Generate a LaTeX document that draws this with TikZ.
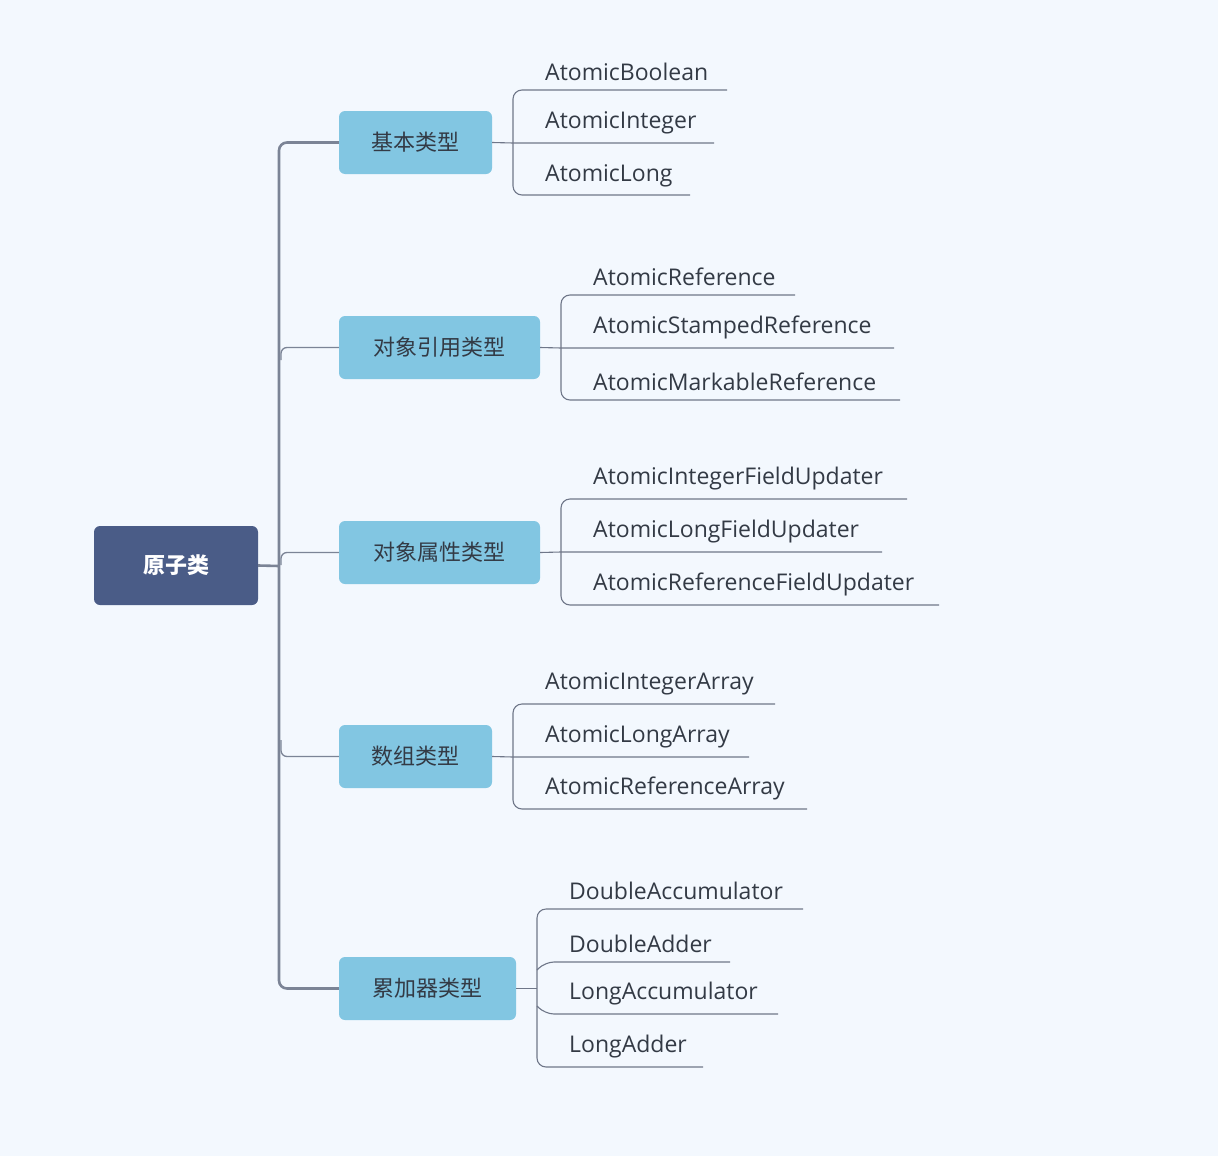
\documentclass[tikz,border=0pt]{standalone}
\usepackage{fontspec}
\setmainfont{Open Sans}
\newfontfamily\cjk{Noto Sans CJK SC}
\definecolor{bg}{HTML}{F3F8FE}
\definecolor{rootc}{HTML}{4A5C87}
\definecolor{boxc}{HTML}{82C6E2}
\definecolor{trunk}{HTML}{7B8496}
\definecolor{leafl}{HTML}{6F7789}
\definecolor{txt}{HTML}{333A45}
\begin{document}
\begin{tikzpicture}[x=1pt,y=-1pt,
  rootbox/.style={fill=rootc,rounded corners=6pt,text=white,font=\cjk\fontsize{22}{26}\selectfont\bfseries,inner sep=0pt},
  catbox/.style={fill=boxc,rounded corners=6pt,text=txt,font=\cjk\fontsize{22}{26}\selectfont,inner sep=0pt},
  leaf/.style={anchor=south west,inner sep=0pt,text=txt,font=\fontsize{23}{28}\selectfont,yshift=-1pt},
  trk/.style={draw=trunk,line width=2.6pt,rounded corners=8pt},
  lf/.style={draw=leafl,line width=1.1pt,rounded corners=9pt}]
\fill[bg] (0,0) rectangle (1218,1156);
\useasboundingbox (0,0) rectangle (1218,1156);
\node[rootbox,minimum width=164pt,minimum height=79pt] (root) at (176,565.5) {原子类};
\node[catbox,minimum width=153pt,minimum height=63pt] (c1) at (415.5,142.5) {基本类型};
\node[catbox,minimum width=201pt,minimum height=63pt] (c2) at (439.5,347.5) {对象引用类型};
\node[catbox,minimum width=201pt,minimum height=63pt] (c3) at (439.5,552.5) {对象属性类型};
\node[catbox,minimum width=153pt,minimum height=63pt] (c4) at (415.5,756.5) {数组类型};
\node[catbox,minimum width=177pt,minimum height=63pt] (c5) at (427.5,988.5) {累加器类型};
\coordinate (j) at (279,566);
\draw[trk] (root.east) -- (j);
\draw[trk] (c1.west) -- (279,142.5) -- (279,988.5) -- (c5.west);
\draw[draw=trunk,line width=1.3pt,rounded corners=6pt] (c2.west) -- (281,347.5) -- (281,360);
\draw[draw=trunk,line width=1.3pt,rounded corners=6pt] (c3.west) -- (281,552.5) -- (281,565);
\draw[draw=trunk,line width=1.3pt,rounded corners=6pt] (c4.west) -- (281,756.5) -- (281,740);
% group 1
\draw[lf] (727,90) -- (513,90) -- (513,195) -- (690,195);
\draw[lf] (c1.east) -- (513,143) (513,143) -- (714,143);
\node[leaf] (l11) at (545,80) {AtomicBoolean};
\node[leaf] (l12) at (545,133) {AtomicInteger};
\node[leaf] (l13) at (545,186) {AtomicLong};
% group 2
\draw[lf] (795,295) -- (561,295) -- (561,400) -- (900,400);
\draw[lf] (c2.east) -- (561,348) (561,348) -- (894,348);
\node[leaf] (l21) at (593,285) {AtomicReference};
\node[leaf] (l22) at (593,338) {AtomicStampedReference};
\node[leaf] (l23) at (593,390) {AtomicMarkableReference};
% group 3
\draw[lf] (907,499) -- (561,499) -- (561,605) -- (939,605);
\draw[lf] (c3.east) -- (561,552) (561,552) -- (882,552);
\node[leaf] (l31) at (593,489) {AtomicIntegerFieldUpdater};
\node[leaf] (l32) at (593,542) {AtomicLongFieldUpdater};
\node[leaf] (l33) at (593,595) {AtomicReferenceFieldUpdater};
% group 4
\draw[lf] (775,704) -- (513,704) -- (513,809) -- (807,809);
\draw[lf] (c4.east) -- (513,757) (513,757) -- (749,757);
\node[leaf] (l41) at (545,694) {AtomicIntegerArray};
\node[leaf] (l42) at (545,747) {AtomicLongArray};
\node[leaf] (l43) at (545,799) {AtomicReferenceArray};
% group 5
\draw[lf] (803,909) -- (537,909) -- (537,1067) -- (703,1067);
\draw[lf] (c5.east) -- (537,988.5);
\draw[lf] (730,962) -- (545,962) -- (537,970);
\draw[lf] (778,1014) -- (545,1014) -- (537,1006);
\node[leaf] (l51) at (569,899) {DoubleAccumulator};
\node[leaf] (l52) at (569,952) {DoubleAdder};
\node[leaf] (l53) at (569,1004) {LongAccumulator};
\node[leaf] (l54) at (569,1057) {LongAdder};
\end{tikzpicture}
\end{document}
